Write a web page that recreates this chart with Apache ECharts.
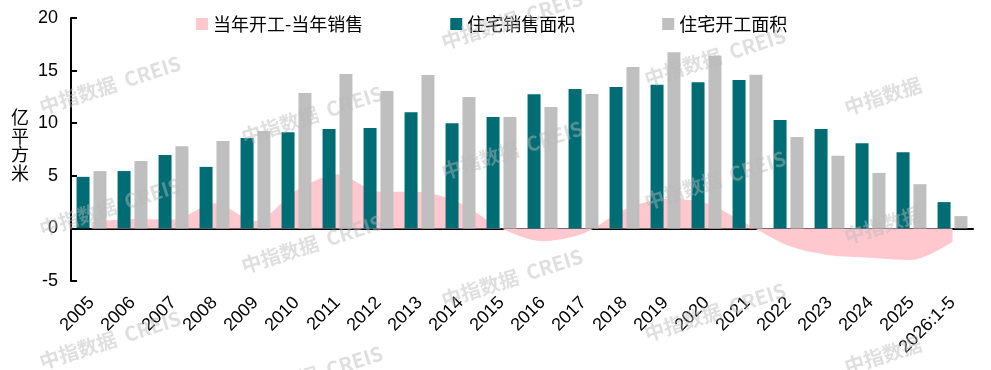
<!DOCTYPE html>
<html>
<head>
<meta charset="utf-8">
<script src="https://cdn.jsdelivr.net/npm/echarts@6/dist/echarts.min.js"></script>
<style>
  html, body { margin: 0; padding: 0; background: #fff; }
  #chart { width: 991px; height: 370px; }
</style>
</head>
<body>
<div id="chart"></div>
<script>
// categories
var years = ["2005", "2006", "2007", "2008", "2009", "2010", "2011", "2012", "2013", "2014", "2015",
    "2016", "2017", "2018", "2019", "2020", "2021", "2022", "2023", "2024", "2025", "2026:1-5"];

// 住宅销售面积 (亿平方米)
var salesArea = [4.9, 5.45, 6.97, 5.85, 8.6, 9.15, 9.45, 9.55, 11.05, 10.0, 10.6,
    12.75, 13.25, 13.45, 13.65, 13.9, 14.1, 10.3, 9.45, 8.1, 7.25, 2.5];

// 住宅开工面积 (亿平方米)
var startArea = [5.45, 6.4, 7.82, 8.3, 9.25, 12.86, 14.67, 13.05, 14.57, 12.48, 10.6,
    11.55, 12.77, 15.35, 16.75, 16.4, 14.6, 8.7, 6.9, 5.28, 4.2, 1.17];

// 当年开工-当年销售
var gapArea = [0.6, 0.9, 0.85, 2.4, 0.7, 3.6, 5.15, 3.5, 3.45, 2.4, 0.0,
    -1.2, -0.48, 1.8, 2.8, 2.4, 0.4, -1.65, -2.55, -2.78, -3.0, -1.27];

// y axis ticks
var yMin = -5, yMax = 20, yStep = 5;

var numFont = "Liberation Sans, Arial, sans-serif";
var cjkFont = "Liberation Sans, Noto Sans CJK SC, sans-serif";

// watermark spots
var marks = [
    [110, 85, 1], [312, 115, 1], [512, 20, 1], [715, 57, 1], [883, 96, 0],
    [110, 207, 1], [312, 244, 1], [512, 150, 1], [715, 180, 1], [883, 225, 0],
    [110, 340, 1], [312, 375, 1], [512, 278, 1], [715, 312, 1], [883, 355, 0]
];

var chart = echarts.init(document.getElementById("chart"));

var graphics = [{
    type: "text",
    left: 11,
    top: 108,
    z: 10,
    style: {
        text: "亿\n平\n方\n米",
        font: "18px Noto Sans CJK SC",
        lineHeight: 18.5,
        fill: "#000"
    }
}];
marks.forEach(function (m) {
    graphics.push({
        type: "text",
        x: m[0],
        y: m[1],
        rotation: 0.31,
        z: 100,
        silent: true,
        style: {
            text: m[2] ? "中指数据  CREIS" : "中指数据",
            font: "bold 20px Noto Sans CJK SC",
            fill: "rgba(185,185,185,0.45)",
            align: "center",
            verticalAlign: "middle"
        }
    });
});

var option = {
    animation: false,
    backgroundColor: "#fff",
    textStyle: {fontFamily: cjkFont},
    legend: {
        left: 191,
        top: 10,
        itemWidth: 12,
        itemHeight: 12,
        itemGap: 87,
        icon: "rect",
        textStyle: {fontSize: 18, color: "#000", fontFamily: "Noto Sans CJK SC"},
        data: ["当年开工-当年销售", "住宅销售面积", "住宅开工面积"]
    },
    grid: {left: 71, right: 18, top: 18, bottom: 89},
    xAxis: [
        {
            type: "category",
            data: years,
            axisLine: {onZero: true, lineStyle: {color: "#000", width: 2}},
            axisTick: {inside: true, length: 6, lineStyle: {color: "#000", width: 2}},
            axisLabel: {show: false},
            splitLine: {show: false}
        },
        {
            type: "category",
            data: years,
            position: "bottom",
            axisLine: {show: false, onZero: false},
            axisTick: {show: false},
            axisLabel: {
                rotate: 45,
                margin: 19,
                fontSize: 18,
                color: "#000",
                fontFamily: numFont,
                interval: 0
            }
        }
    ],
    yAxis: {
        type: "value",
        min: yMin,
        max: yMax,
        interval: yStep,
        axisLine: {show: true, lineStyle: {color: "#000", width: 2}},
        axisTick: {show: true, inside: true, length: 6, lineStyle: {color: "#000", width: 2}},
        axisLabel: {fontSize: 18, color: "#000", margin: 13, fontFamily: numFont},
        splitLine: {show: false}
    },
    series: [
        {
            name: "当年开工-当年销售",
            type: "line",
            xAxisIndex: 0,
            data: gapArea,
            smooth: 0.3,
            symbol: "none",
            z: 1,
            itemStyle: {color: "#FFC7CE"},
            lineStyle: {width: 0, color: "#FFC7CE"},
            areaStyle: {color: "#FFC7CE", opacity: 1}
        },
        {
            name: "住宅销售面积",
            type: "bar",
            xAxisIndex: 0,
            data: salesArea,
            barWidth: 13,
            barGap: "30%",
            z: 3,
            itemStyle: {color: "#006D75"}
        },
        {
            name: "住宅开工面积",
            type: "bar",
            xAxisIndex: 0,
            data: startArea,
            barWidth: 13,
            barGap: "30%",
            z: 3,
            itemStyle: {color: "#BFBFBF"}
        }
    ],
    graphic: graphics
};

chart.setOption(option);
</script>
</body>
</html>
